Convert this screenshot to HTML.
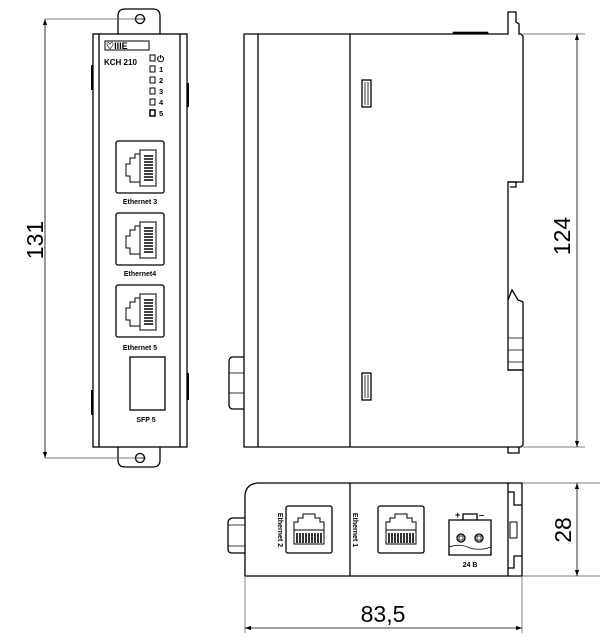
<!DOCTYPE html>
<html><head><meta charset="utf-8"><style>
html,body{margin:0;padding:0;background:#fff;}
svg{display:block;}
text{font-family:"Liberation Sans",Arial,sans-serif;fill:#000;}
</style></head><body>
<svg width="604" height="644" viewBox="0 0 604 644" xmlns="http://www.w3.org/2000/svg">
<defs>
<marker id="ar" viewBox="0 0 10 10" refX="10" refY="5" markerWidth="12" markerHeight="6" markerUnits="userSpaceOnUse" orient="auto-start-reverse"><path d="M0,1.5 L10,5 L0,8.5 Z" fill="#000"/></marker>
</defs>
<g fill="none" stroke="#000" stroke-width="1.3">
<!-- FRONT VIEW -->
<path d="M118,34 L118,16 Q118,9 125,9 L153,9 Q160,9 160,16 L160,34"/>
<circle cx="140" cy="19" r="4.5"/><line x1="134" y1="19" x2="146" y2="19" stroke-width="0.8"/>
<line x1="45" y1="19" x2="140" y2="19" stroke-width="0.7" stroke="#555"/>
<rect x="93" y="34" width="94" height="413"/>
<line x1="99" y1="34" x2="99" y2="447"/>
<line x1="180" y1="34" x2="180" y2="447"/>
<line x1="92" y1="65" x2="92" y2="90" stroke-width="2"/>
<line x1="188" y1="83" x2="188" y2="107" stroke-width="2"/>
<line x1="92" y1="390" x2="92" y2="415" stroke-width="2"/>
<line x1="188" y1="373" x2="188" y2="400" stroke-width="2"/>
<path d="M118,447 L118,460 Q118,467 125,467 L153,467 Q160,467 160,460 L160,447"/>
<circle cx="140" cy="458" r="4.5"/><line x1="134" y1="458" x2="146" y2="458" stroke-width="0.8"/>
<line x1="45" y1="458" x2="140" y2="458" stroke-width="0.7" stroke="#555"/>
<line x1="45" y1="19" x2="45" y2="458" stroke-width="0.8" marker-start="url(#ar)" marker-end="url(#ar)"/>
<!-- logo -->
<rect x="105" y="41" width="44" height="9" stroke-width="1"/>
<!-- LEDs -->
<rect x="150" y="55" width="5" height="6" stroke-width="1"/>
<rect x="150" y="66" width="5" height="6" stroke-width="1"/>
<rect x="150" y="77" width="5" height="6" stroke-width="1"/>
<rect x="150" y="88" width="5" height="6" stroke-width="1"/>
<rect x="150" y="99" width="5" height="6" stroke-width="1"/>
<rect x="150" y="110" width="5" height="6" stroke-width="1.5"/>
<!-- Ethernet boxes -->
<g id="rj">
<rect x="116" y="141" width="48" height="52" rx="2"/>
<path d="M140,150 L140,154 L135,154 L135,158 L130,158 L130,164 L126,164 L126,176 L130,176 L130,182 L140,182 L140,186" stroke-width="1"/>
<rect x="140" y="150" width="16" height="36" stroke-width="1"/>
<path d="M144,156 h9 M144,159 h9 M144,162 h9 M144,165 h9 M144,168 h9 M144,171 h9 M144,174 h9 M144,177 h9 M144,180 h9" stroke-width="1.6"/>
</g>
<use href="#rj" y="72"/>
<use href="#rj" y="144"/>
<rect x="130" y="357" width="35" height="53"/>
<!-- SIDE VIEW -->
<path d="M244,34 L508,34 L508,12 L516,12 L516,22 L519,24 L519,34 L521,34 L523,36 L523,182 L508,182 L508,370 L523,370 L523,445 L521,447 L244,447 Z"/>
<line x1="258" y1="34" x2="258" y2="447"/>
<line x1="350" y1="34" x2="350" y2="447"/>
<rect x="453" y="32" width="35" height="2" fill="#000" stroke-width="0.6"/>
<rect x="362" y="80" width="9" height="27"/><line x1="365" y1="82" x2="365" y2="105" stroke-width="0.8"/><line x1="368" y1="82" x2="368" y2="105" stroke-width="0.8"/>
<rect x="362" y="373" width="9" height="27"/><line x1="365" y1="375" x2="365" y2="398" stroke-width="0.8"/><line x1="368" y1="375" x2="368" y2="398" stroke-width="0.8"/>
<path d="M244,357 L232,357 Q229,358 229,362 L229,405 Q229,408 232,409 L244,409"/>
<line x1="229" y1="373" x2="244" y2="373" stroke-width="0.8"/><line x1="229" y1="393" x2="244" y2="393" stroke-width="0.8"/>
<path d="M508,182 L516,182 L516,187 L510,187"/>
<path d="M508,300 L512,290 L518,300 L523,302 L523,370 L508,370"/>
<path d="M508,338 L523,338 M508,350 L523,350 M508,362 L523,362" stroke-width="0.8"/>
<path d="M508,447 L508,453 L519,453 L519,447"/>
<line x1="523" y1="34" x2="585" y2="34" stroke-width="0.7" stroke="#555"/>
<line x1="523" y1="447" x2="585" y2="447" stroke-width="0.7" stroke="#555"/>
<line x1="577" y1="34" x2="577" y2="447" stroke-width="0.8" marker-start="url(#ar)" marker-end="url(#ar)"/>
<!-- BOTTOM VIEW -->
<path d="M245,576 L245,495 Q246,484 258,483 L522,483 L522,576 Z"/>
<line x1="350" y1="483" x2="350" y2="576"/>
<path d="M245,518 L232,518 Q228,519 228,523 L228,549 Q228,553 232,553 L245,553"/>
<line x1="228" y1="525" x2="245" y2="525" stroke-width="0.8"/><line x1="228" y1="546" x2="245" y2="546" stroke-width="0.8"/>
<g id="rj2">
<rect x="286" y="506" width="46" height="47" rx="2"/>
<path d="M294,535 L294,522 L298,522 L298,518 L303,518 L303,514 L315,514 L315,518 L320,518 L320,522 L324,522 L324,535" stroke-width="1"/>
<rect x="294" y="530" width="30" height="14" stroke-width="1"/>
<path d="M297,533 v10 M300,533 v10 M303,533 v10 M306,533 v10 M309,533 v10 M312,533 v10 M315,533 v10 M318,533 v10 M321,533 v10" stroke-width="1.6"/>
</g>
<use href="#rj2" x="92"/>
<path d="M449,520 L449,555 L491,555 L491,520 L477,520 L477,514 L463,514 L463,520 Z"/>
<line x1="463" y1="520" x2="477" y2="520"/>
<circle cx="461" cy="538" r="4"/><rect x="459" y="536" width="4" height="4" stroke-width="0.8"/>
<circle cx="479" cy="538" r="4"/><rect x="477" y="536" width="4" height="4" stroke-width="0.8"/>
<path d="M449,547 Q460,543 470,548 Q480,551 491,547" stroke-width="0.8"/>
<path d="M508,483 L508,576 M508,492 L514,492 L514,505 L522,505 M508,568 L514,568 L514,556 L522,556"/>
<rect x="510" y="522" width="7" height="16" stroke-width="1"/>
<line x1="522" y1="483" x2="600" y2="483" stroke-width="0.7" stroke="#555"/>
<line x1="522" y1="576" x2="600" y2="576" stroke-width="0.7" stroke="#555"/>
<line x1="577" y1="483" x2="577" y2="576" stroke-width="0.8" marker-start="url(#ar)" marker-end="url(#ar)"/>
<line x1="245" y1="576" x2="245" y2="633" stroke-width="0.7" stroke="#555"/>
<line x1="522" y1="576" x2="522" y2="633" stroke-width="0.7" stroke="#555"/>
<line x1="245" y1="628" x2="522" y2="628" stroke-width="0.8" marker-start="url(#ar)" marker-end="url(#ar)"/>
</g>
<!-- text -->
<text x="106" y="49" font-size="9" font-weight="bold">♡IIIE</text>
<text x="104" y="65" font-size="8" font-weight="bold">KCH 210</text>
<text x="157" y="62" font-size="9" font-weight="bold">⏻</text>
<g font-size="7.5" font-weight="bold">
<text x="159" y="72">1</text><text x="159" y="83">2</text><text x="159" y="94">3</text><text x="159" y="105">4</text><text x="159" y="116">5</text>
</g>
<g font-size="7" text-anchor="middle" font-weight="bold">
<text x="140" y="204">Ethernet 3</text>
<text x="140" y="276">Ethernet4</text>
<text x="140" y="350">Ethernet 5</text>
<text x="146" y="422">SFP 5</text>
<text x="470" y="567">24 B</text>
<text transform="translate(278,530) rotate(90)">Ethernet 2</text>
<text transform="translate(353,530) rotate(90)">Ethernet 1</text>
</g>
<text x="455" y="518" font-size="9" font-weight="bold">+</text>
<text x="479" y="518" font-size="9" font-weight="bold">–</text>
<g font-size="23">
<text transform="translate(43,240) rotate(-90)" text-anchor="middle">131</text>
<text transform="translate(570,236) rotate(-90)" text-anchor="middle">124</text>
<text transform="translate(571,530) rotate(-90)" text-anchor="middle">28</text>
<text x="383" y="622" text-anchor="middle">83,5</text>
</g>
</svg>
</body></html>
